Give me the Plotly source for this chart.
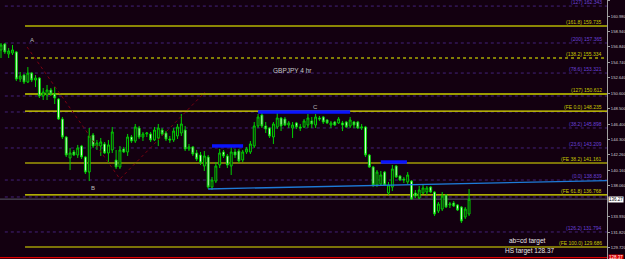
import plotly.graph_objects as go

# ---- candle data (GBPJPY 4h) ----
opens = [156.42,157.23,155.88,156.01,156.15,152.49,153.03,152.09,153.30,152.36,
         152.63,150.20,150.33,151.01,150.47,149.79,147.09,144.66,141.83,142.64,
         142.23,143.45,141.96,139.93,144.93,143.45,143.45,143.72,142.50,142.91,
         141.55,140.61,143.05,142.64,144.66,144.12,145.88,144.66,145.07,145.07,
         144.26,144.53,145.61,145.20,144.39,144.26,144.80,145.20,145.61,143.05,
         143.32,142.50,142.23,140.74,141.96,137.90,138.71,140.88,142.64,142.10,
         140.74,142.64,142.77,141.55,142.64,142.64,143.45,146.15,147.63,146.15,
         145.88,144.66,146.01,147.23,147.09,146.28,145.88,146.56,146.01,146.01,
         146.28,146.83,146.28,147.23,147.36,146.96,146.28,146.69,146.56,146.56,
         146.69,146.15,146.69,146.69,145.88,146.01,142.23,140.61,138.18,138.31,
         139.93,137.09,137.90,140.74,139.39,138.98,138.58,138.71,137.09,136.42,
         137.09,137.23,137.90,137.23,134.66,134.93,136.83,135.48,135.75,135.48,
         135.20,133.86,134.26]
highs = [157.36,157.36,156.69,157.09,156.28,153.44,153.17,154.11,153.44,153.03,
         152.76,151.28,151.69,151.28,151.41,149.93,147.36,144.80,143.18,142.91,
         143.59,143.59,142.10,145.88,145.20,144.26,144.53,143.99,144.26,146.01,
         142.91,143.45,143.32,145.07,144.93,146.42,146.15,145.34,145.34,145.34,
         146.01,146.42,145.88,145.47,144.80,145.88,146.42,147.77,146.15,143.72,
         143.45,142.91,142.64,142.77,142.23,139.26,141.28,143.05,142.91,142.37,
         143.31,143.05,143.05,142.91,143.31,144.12,146.69,147.77,148.04,146.69,
         146.01,146.69,148.17,147.36,147.36,146.83,146.69,146.69,146.42,147.09,
         147.77,147.36,147.77,147.50,147.50,147.09,146.83,146.83,147.36,146.83,
         146.83,147.36,146.83,146.83,146.42,146.15,142.37,140.74,140.20,140.07,
         140.07,138.58,140.88,140.88,139.53,139.26,139.93,138.85,137.50,138.04,
         138.18,138.04,138.04,137.36,135.88,137.23,136.96,135.88,136.01,135.61,
         135.34,135.20,137.63]
lows = [155.33,155.88,155.33,155.74,152.22,152.09,151.82,151.95,152.09,151.41,
        149.93,149.66,149.66,150.20,149.12,146.96,144.39,141.96,140.20,142.10,
        141.83,141.69,139.66,138.71,143.18,142.91,142.10,142.37,141.15,142.50,
        140.34,140.34,142.50,142.10,143.86,143.86,144.39,144.12,144.66,143.99,
        144.12,143.45,144.80,144.12,143.86,143.99,144.39,144.80,142.77,142.77,
        142.10,141.42,140.88,140.07,137.63,137.50,138.44,140.47,141.83,140.47,
        139.53,141.83,141.15,141.28,142.37,142.37,143.18,145.88,145.88,145.20,
        144.53,143.72,145.74,145.47,146.15,145.88,144.53,145.74,145.47,145.88,
        145.88,145.88,145.88,146.83,146.42,146.42,145.88,146.15,146.42,145.47,
        145.88,145.88,145.88,145.74,145.61,141.96,140.47,137.90,137.90,138.04,
        138.04,136.83,137.36,139.12,138.71,138.44,138.31,136.15,136.42,136.29,
        136.96,136.83,137.09,133.99,134.39,134.66,135.07,135.07,135.20,134.66,
        133.04,133.58,133.99]
closes = [157.09,156.15,156.28,156.42,152.49,152.90,152.09,153.30,152.36,152.63,
          150.20,150.74,151.01,150.47,149.93,147.09,144.66,142.23,142.50,142.23,
          143.18,141.96,139.93,144.80,143.45,143.86,143.99,142.50,143.59,145.34,
          140.61,142.91,142.64,144.66,144.12,146.01,144.66,145.07,145.20,144.26,
          145.61,145.88,145.07,144.39,144.26,145.47,146.01,146.42,143.05,143.32,
          142.37,141.69,141.15,142.10,137.90,138.85,140.74,142.50,142.10,140.88,
          142.64,142.23,141.42,142.64,143.05,143.72,146.15,147.36,146.15,145.74,
          144.80,146.42,147.23,146.15,146.28,146.56,146.28,146.01,145.88,146.83,
          147.23,146.42,147.36,147.09,146.69,146.56,146.56,146.28,147.09,146.28,
          146.01,146.96,146.28,145.88,146.01,142.23,140.61,138.18,139.93,139.53,
          138.18,138.18,140.34,139.26,138.85,138.85,139.53,136.29,136.69,137.50,
          137.77,137.77,137.23,134.26,135.61,136.69,135.20,135.61,135.34,134.80,
          133.31,134.93,136.27]
bar_index = list(range(len(opens)))

# ---- right price axis ----
tick_vals = [163.08,160.98,158.94,156.84,154.74,152.64,150.60,148.50,146.40,
             144.30,142.26,140.16,138.06,133.93,131.82,129.72]
tick_text = [f"{v:.3f}" for v in tick_vals]
current_price = 136.27
hs_target = 128.37

# ---- Fibonacci / expansion levels ----
fib_prices = [162.35,157.36,153.30,145.88,143.18,138.85,131.83]
fib_labels = ["(127) 162.343","(200) 157.365","(78.6) 153.321","(38.2) 145.898",
              "(23.6) 143.209","(0.0) 138.839","(126.2) 131.794"]
fib_extra = [150.20,148.04,136.56]          # unlabeled dotted levels
target_prices = [159.66,155.33,150.47,148.17,141.15,136.83,129.80]
target_labels = ["(161.8) 159.735","(138.2) 155.334","(127) 150.612","(FE 0.0) 148.235",
                 "(FE 38.2) 141.161","(FE 61.8) 136.768","(FE 100.0) 129.686"]
target_styles = ["solid_olive","dot_olive","thick_olive","yellow","yellow","yellow","yellow"]

# blue resistance segments (bar index start, end, price)
seg_x0 = [67.0, 55.0, 99.0]
seg_x1 = [91.0, 63.1, 105.8]
seg_y = [148.04, 143.45, 141.28]
# trend line
trend_x = [54.0, 157.9]
trend_y = [137.64, 138.78]
# abcd zig-zag
zig_x = [6.8, 31.0, 53.2]
zig_y = [156.82, 138.99, 150.74]

point_labels = ["A", "B", "C"]
point_x = [8.1, 24.0, 82.1]
point_y = [157.77, 137.77, 148.71]

BG = "#130010"
XMIN, XMAX = -0.26, 157.95

fig = go.Figure()
fig.add_trace(go.Candlestick(
    x=bar_index, open=opens, high=highs, low=lows, close=closes,
    increasing=dict(line=dict(color="#00d000", width=1), fillcolor=BG),
    decreasing=dict(line=dict(color="#00d000", width=1), fillcolor="#eaffea"),
    whiskerwidth=0, showlegend=False, hoverinfo="skip"))

shapes = []
annotations = []
# dotted fib levels
for p in fib_prices + fib_extra:
    shapes.append(dict(type="line", xref="x", yref="y", x0=1.0, x1=XMAX, y0=p, y1=p,
                       line=dict(color="#43217a", width=1, dash="dot"), layer="below"))
for p, t in zip(fib_prices, fib_labels):
    annotations.append(dict(xref="paper", yref="y", x=0.995, y=p, text=t, showarrow=False,
                            xanchor="right", yanchor="bottom", yshift=-1,
                            font=dict(size=5, color="#6a40d8", family="Liberation Sans")))
style_map = {
    "solid_olive": dict(color="#b4b400", width=1.5),
    "dot_olive": dict(color="#a8a800", width=1.5, dash="dot"),
    "thick_olive": dict(color="#9c9c00", width=2),
    "yellow": dict(color="#e6e600", width=1.2),
}
for p, t, s in zip(target_prices, target_labels, target_styles):
    shapes.append(dict(type="line", xref="x", yref="y", x0=6.26, x1=XMAX, y0=p, y1=p,
                       line=style_map[s], layer="below"))
    annotations.append(dict(xref="paper", yref="y", x=0.995, y=p, text=t, showarrow=False,
                            xanchor="right", yanchor="bottom", yshift=-1,
                            font=dict(size=5, color="#c8c800", family="Liberation Sans")))
# bid line and HS target line
shapes.append(dict(type="line", xref="x", yref="y", x0=XMIN, x1=XMAX, y0=current_price,
                   y1=current_price, line=dict(color="#5a5a6a", width=1), layer="below"))
shapes.append(dict(type="line", xref="x", yref="y", x0=XMIN, x1=XMAX, y0=hs_target,
                   y1=hs_target, line=dict(color="#e00000", width=1.2), layer="below"))

for x0, x1, y in zip(seg_x0, seg_x1, seg_y):
    fig.add_trace(go.Scatter(x=[x0, x1], y=[y, y], mode="lines",
                             line=dict(color="#0a14ff", width=3.5),
                             showlegend=False, hoverinfo="skip"))
fig.add_trace(go.Scatter(x=trend_x, y=trend_y, mode="lines",
                         line=dict(color="#1e7ad8", width=1.3),
                         showlegend=False, hoverinfo="skip"))
fig.add_trace(go.Scatter(x=zig_x, y=zig_y, mode="lines",
                         line=dict(color="#7a0010", width=1, dash="dot"),
                         showlegend=False, hoverinfo="skip"))

for t, x, y in zip(point_labels, point_x, point_y):
    annotations.append(dict(xref="x", yref="y", x=x, y=y, text=t, showarrow=False,
                            font=dict(size=6, color="#b8b8b8", family="Liberation Sans")))
annotations.append(dict(xref="x", yref="y", x=75.9, y=153.71, text="GBPJPY 4 hr",
                        showarrow=False, font=dict(size=6.5, color="#c8c8c8",
                                                   family="Liberation Sans")))
annotations.append(dict(xref="x", yref="y", x=131.9, y=130.61, text="ab=cd target",
                        showarrow=False, xanchor="left",
                        font=dict(size=6.5, color="#e8e8e8", family="Liberation Sans")))
annotations.append(dict(xref="x", yref="y", x=130.9, y=129.26, text=f"HS target {hs_target:.2f}",
                        showarrow=False, xanchor="left",
                        font=dict(size=6.5, color="#e8e8e8", family="Liberation Sans")))
# price boxes on the axis
annotations.append(dict(xref="paper", yref="y", x=1.0, y=current_price,
                        text=f"{current_price:.2f}", showarrow=False, xanchor="left",
                        xshift=1, bgcolor="#ffffff", borderpad=0,
                        font=dict(size=4.5, color="#000000", family="Liberation Sans")))
annotations.append(dict(xref="paper", yref="y", x=1.0, y=hs_target,
                        text=f"{hs_target:.2f}", showarrow=False, xanchor="left",
                        xshift=1, bgcolor="#e00000", borderpad=0,
                        font=dict(size=4.5, color="#ffffff", family="Liberation Sans")))

fig.update_layout(
    width=625, height=259, margin=dict(l=0, r=18, t=0, b=0),
    paper_bgcolor=BG, plot_bgcolor=BG, showlegend=False,
    shapes=shapes, annotations=annotations,
    xaxis=dict(range=[XMIN, XMAX], visible=False, rangeslider=dict(visible=False),
               showgrid=False, zeroline=False),
    yaxis=dict(range=[128.18, 163.17], side="right", showgrid=False, zeroline=False,
               tickvals=tick_vals, ticktext=tick_text, ticks="outside", ticklen=2,
               tickcolor="#a0a0a0", showline=True, linecolor="#a0a0a0", linewidth=1,
               tickfont=dict(size=4.2, color="#d0d0d0", family="Liberation Sans"),
               automargin=False),
)
fig.write_html("out.html")
